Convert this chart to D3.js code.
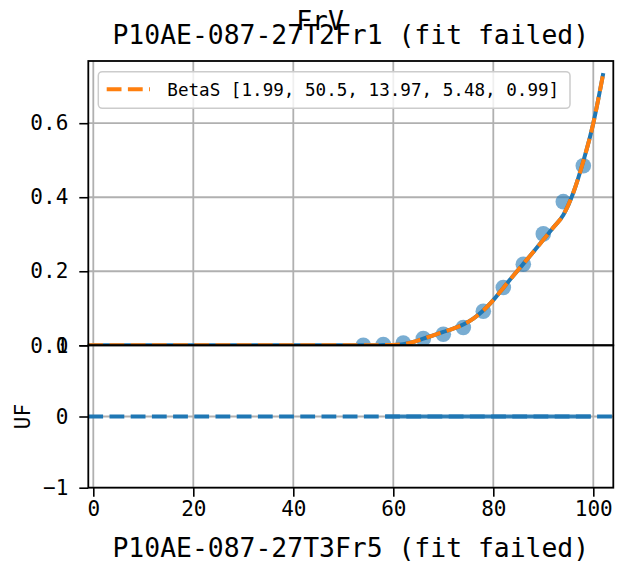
<!DOCTYPE html>
<html>
<head>
<meta charset="utf-8">
<script src="https://cdn.jsdelivr.net/npm/d3@7/dist/d3.min.js"></script>
<style>
  html, body { margin: 0; padding: 0; background: #fff; }
  svg { display: block; }
  text { font-family: "DejaVu Sans Mono", "Liberation Mono", monospace; fill: #000; }
</style>
</head>
<body>
<svg id="chart" width="617" height="564"></svg>
<script>
// ---------- data ----------
const suptitle = "FrV";
const topTitle = "P10AE-087-27T2Fr1 (fit failed)";
const bottomXLabel = "P10AE-087-27T3Fr5 (fit failed)";
const bottomYLabel = "UF";
const legendLabel = "BetaS [1.99, 50.5, 13.97, 5.48, 0.99]";

// observed points (top panel)
const pointX = [54, 58, 62, 66, 70, 74, 78, 82, 86, 90, 94, 98];
const pointY = [0.0, 0.002, 0.006, 0.018, 0.030, 0.048, 0.092, 0.156, 0.219, 0.301, 0.388, 0.485];

// curve samples (true curve & BetaS fit, overlapping)
const curveX = [-1, 0, 10, 20, 30, 40, 50, 56, 58, 60, 62, 64, 66, 68, 70, 72, 74, 76, 78, 80, 82, 84, 86, 88, 90, 92, 94, 96, 98, 100, 102];
const curveY = [0, 0, 0, 0, 0, 0, 0, 0, 0.0005, 0.001, 0.003, 0.009, 0.018, 0.027, 0.036, 0.045, 0.056, 0.072, 0.094, 0.122, 0.155, 0.188, 0.220, 0.252, 0.285, 0.318, 0.352, 0.412, 0.497, 0.600, 0.735];

// bottom panel: residual segment and reference line
const residX = [58.4, 99.5];
const residY = [0, 0];
const refLineY = 0;

// ticks
const xTicks = [0, 20, 40, 60, 80, 100];
const topYTicks = [0.0, 0.2, 0.4, 0.6];
const botYTicks = [-1, 0, 1];

// ---------- layout ----------
const L = 88.3, R = 613.3, T = 61, M = 345.3, B = 487.7;
const blue = "#1f77b4", orange = "#ff7f0e", grid = "#b0b0b0";

const svg = d3.select("#chart");
const x = d3.scaleLinear().domain([-1, 104]).range([L, R]);
const yTop = d3.scaleLinear().domain([0, 0.768]).range([M, T]);
const yBot = d3.scaleLinear().domain([-1, 1]).range([B, M]);

const defs = svg.append("defs");
defs.append("clipPath").attr("id", "clipTop").append("rect")
  .attr("x", L).attr("y", T).attr("width", R - L).attr("height", M - T);
defs.append("clipPath").attr("id", "clipBot").append("rect")
  .attr("x", L).attr("y", M).attr("width", R - L).attr("height", B - M);

// ---------- top panel ----------
const gTop = svg.append("g").attr("clip-path", "url(#clipTop)");
gTop.selectAll(".vg").data(xTicks).join("line")
  .attr("x1", d => x(d)).attr("x2", d => x(d)).attr("y1", T).attr("y2", M)
  .attr("stroke", grid).attr("stroke-width", 1.8);
gTop.selectAll(".hg").data(topYTicks).join("line")
  .attr("x1", L).attr("x2", R).attr("y1", d => yTop(d)).attr("y2", d => yTop(d))
  .attr("stroke", grid).attr("stroke-width", 1.8);

gTop.selectAll("circle").data(pointX.map((d, i) => [d, pointY[i]])).join("circle")
  .attr("cx", d => x(d[0])).attr("cy", d => yTop(d[1])).attr("r", 7.8)
  .attr("fill", blue).attr("fill-opacity", 0.6);

const curveData = curveX.map((d, i) => [d, curveY[i]]);
const lineTop = d3.line().x(d => x(d[0])).y(d => yTop(d[1])).curve(d3.curveMonotoneX);
gTop.append("path").datum(curveData).attr("d", lineTop)
  .attr("fill", "none").attr("stroke", blue).attr("stroke-width", 4);
gTop.append("path").datum(curveData).attr("d", lineTop)
  .attr("fill", "none").attr("stroke", orange).attr("stroke-width", 4)
  .attr("stroke-dasharray", "14.8,6.4");

// ---------- bottom panel ----------
const gBot = svg.append("g").attr("clip-path", "url(#clipBot)");
gBot.selectAll(".vg").data(xTicks).join("line")
  .attr("x1", d => x(d)).attr("x2", d => x(d)).attr("y1", M).attr("y2", B)
  .attr("stroke", grid).attr("stroke-width", 1.8);
gBot.selectAll(".hg").data(botYTicks).join("line")
  .attr("x1", L).attr("x2", R).attr("y1", d => yBot(d)).attr("y2", d => yBot(d))
  .attr("stroke", grid).attr("stroke-width", 1.8);

gBot.append("path")
  .datum(residX.map((d, i) => [d, residY[i]]))
  .attr("d", d3.line().x(d => x(d[0])).y(d => yBot(d[1])))
  .attr("fill", "none").attr("stroke", blue).attr("stroke-width", 4).attr("stroke-opacity", 0.9);
gBot.append("line")
  .attr("x1", L).attr("x2", R).attr("y1", yBot(refLineY)).attr("y2", yBot(refLineY))
  .attr("stroke", blue).attr("stroke-width", 4).attr("stroke-dasharray", "14.8,6.4");

// ---------- axes ----------
function styleAxis(g) {
  g.select(".domain").remove();
  g.selectAll(".tick line").attr("stroke", "#000").attr("stroke-width", 1.6);
  g.selectAll(".tick text").attr("font-size", 21).attr("font-family", '"DejaVu Sans Mono", monospace').attr("fill", "#000");
}
svg.append("g").attr("transform", `translate(${L},0)`)
  .call(d3.axisLeft(yTop).tickValues(topYTicks).tickFormat(d3.format(".1f")).tickSize(9).tickPadding(11))
  .call(styleAxis);
svg.append("g").attr("transform", `translate(${L},0)`)
  .call(d3.axisLeft(yBot).tickValues(botYTicks).tickFormat(d3.format("d")).tickSize(9).tickPadding(11))
  .call(styleAxis);
svg.append("g").attr("transform", `translate(0,${B})`)
  .call(d3.axisBottom(x).tickValues(xTicks).tickFormat(d3.format("d")).tickSize(9).tickPadding(4))
  .call(styleAxis);

// spines
svg.append("rect").attr("x", L).attr("y", T).attr("width", R - L).attr("height", M - T)
  .attr("fill", "none").attr("stroke", "#000").attr("stroke-width", 1.8);
svg.append("rect").attr("x", L).attr("y", M).attr("width", R - L).attr("height", B - M)
  .attr("fill", "none").attr("stroke", "#000").attr("stroke-width", 1.8);

// ---------- legend ----------
const lg = svg.append("g");
lg.append("rect").attr("x", 98.3).attr("y", 71.7).attr("width", 471.7).attr("height", 36.6)
  .attr("rx", 4).attr("fill", "#fff").attr("fill-opacity", 0.8)
  .attr("stroke", "#cccccc").attr("stroke-width", 1.5);
lg.append("line").attr("x1", 106.7).attr("x2", 150).attr("y1", 89.3).attr("y2", 89.3)
  .attr("stroke", orange).attr("stroke-width", 4).attr("stroke-dasharray", "14.8,6.4");
lg.append("text").attr("x", 167.3).attr("y", 89.3).attr("dy", "0.36em")
  .attr("font-size", 17.6).text(legendLabel);

// ---------- titles ----------
svg.append("text").attr("x", (L + R) / 2).attr("y", 43.5).attr("text-anchor", "middle")
  .attr("font-size", 26.4).text(topTitle);
svg.append("text").attr("x", 320).attr("y", 30).attr("text-anchor", "middle")
  .attr("font-size", 26.4).text(suptitle);
svg.append("text").attr("x", (L + R) / 2).attr("y", 557).attr("text-anchor", "middle")
  .attr("font-size", 26.4).text(bottomXLabel);
svg.append("text").attr("transform", `translate(30,${(M + B) / 2}) rotate(-90)`)
  .attr("text-anchor", "middle").attr("font-size", 21).text(bottomYLabel);
</script>
</body>
</html>
